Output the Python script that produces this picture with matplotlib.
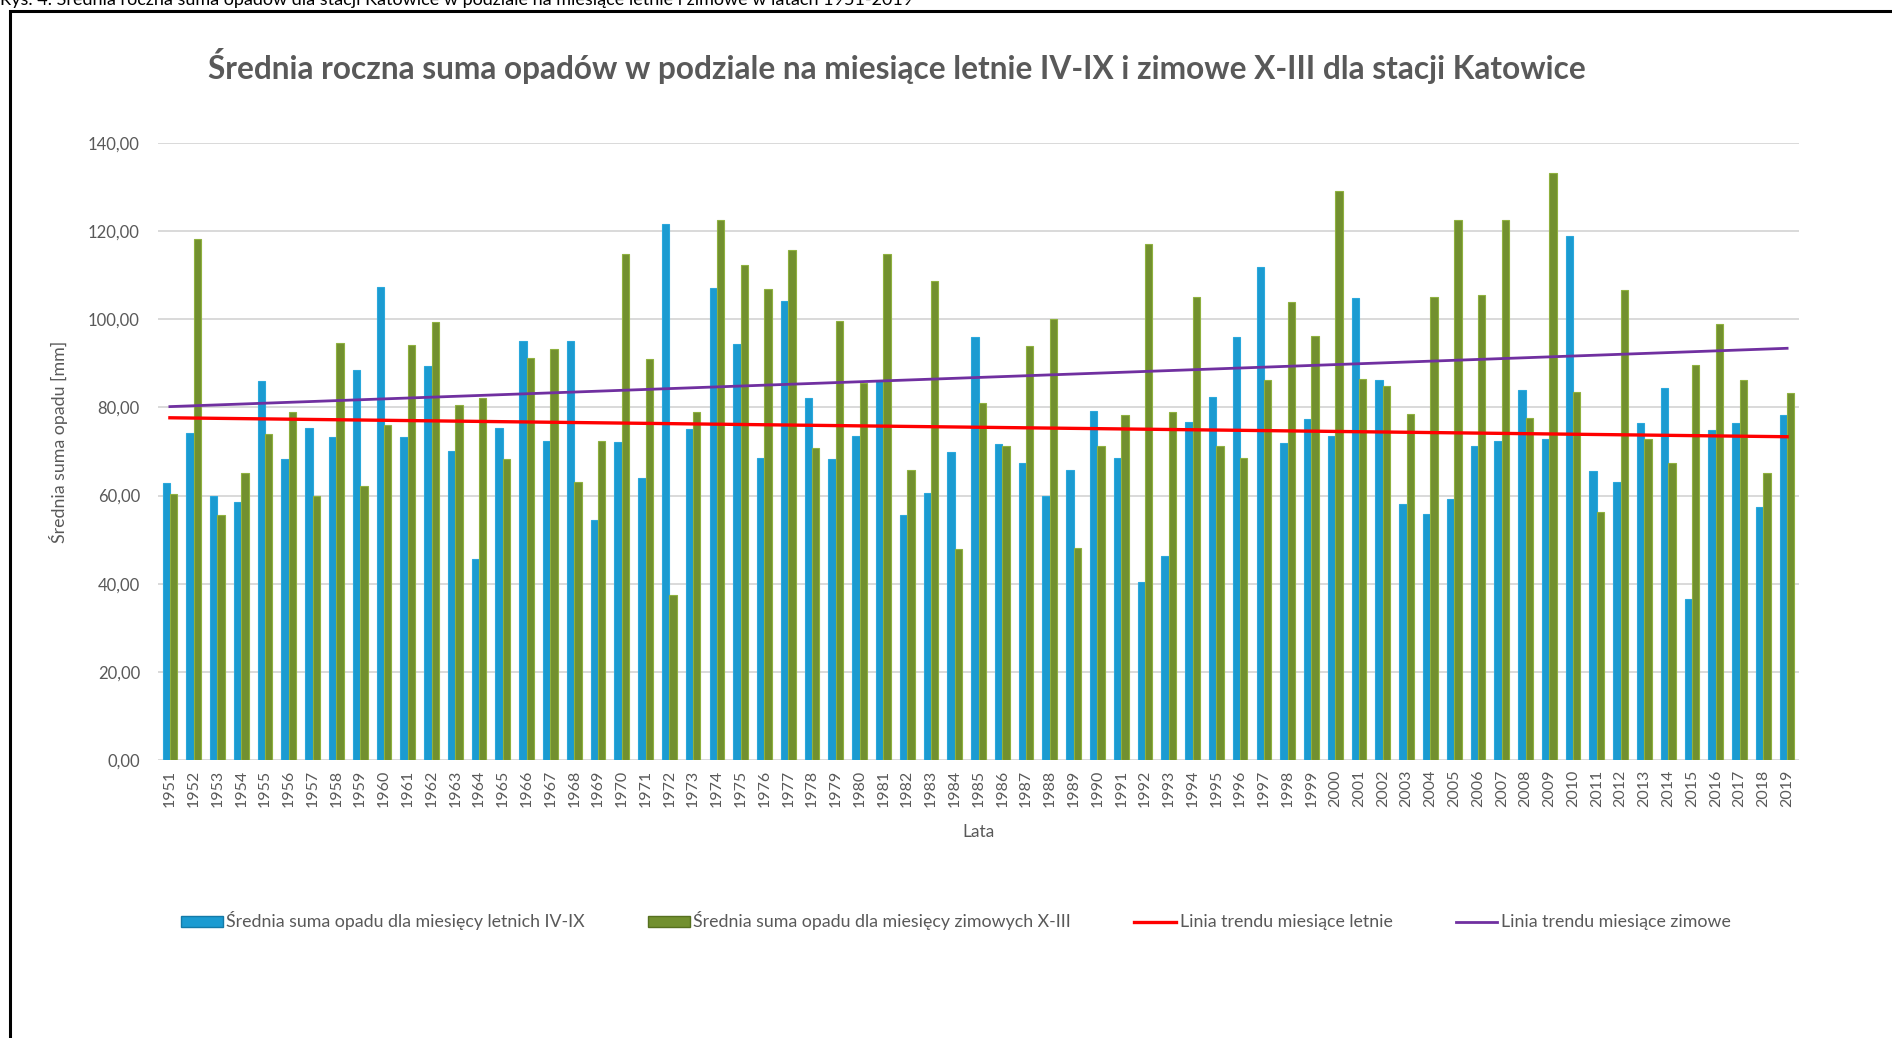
import matplotlib.pyplot as plt
import numpy as np
from matplotlib.patches import Patch, Rectangle
from matplotlib.lines import Line2D

plt.rcParams['font.family'] = ['Lato', 'DejaVu Sans']

# lata 1951-2019
years = list(range(1951, 2020))

# srednia suma opadu dla miesiecy letnich IV-IX [mm]
summer = [62.9, 74.3, 59.9, 58.5, 86.0, 68.3, 75.3, 73.3, 88.5, 107.3,
          73.4, 89.5, 70.1, 45.6, 75.3, 95.0, 72.4, 95.0, 54.5, 72.2,
          64.0, 121.7, 75.0, 107.0, 94.3, 68.6, 104.2, 82.2, 68.2, 73.6,
          86.0, 55.7, 60.6, 69.8, 95.9, 71.7, 67.4, 60.0, 65.7, 79.1,
          68.5, 40.4, 46.3, 76.8, 82.4, 96.0, 111.8, 72.0, 77.4, 73.6,
          104.8, 86.2, 58.1, 55.9, 59.3, 71.2, 72.3, 83.9, 72.8, 119.0,
          65.5, 63.1, 76.5, 84.4, 36.6, 74.8, 76.5, 57.3, 78.2]

# srednia suma opadu dla miesiecy zimowych X-III [mm]
winter = [60.4, 118.2, 55.7, 65.2, 73.9, 79.0, 60.0, 94.6, 62.1, 75.9,
          94.1, 99.3, 80.5, 82.2, 68.2, 91.2, 93.3, 63.1, 72.4, 114.9,
          91.0, 37.5, 79.0, 122.6, 112.3, 106.8, 115.8, 70.9, 99.7, 85.5,
          114.9, 65.7, 108.8, 47.8, 80.9, 71.2, 93.9, 100.1, 48.1, 71.2,
          78.2, 117.1, 79.0, 105.1, 71.2, 68.6, 86.3, 104.0, 96.3, 129.0,
          86.5, 84.8, 78.6, 105.1, 122.6, 105.6, 122.6, 77.6, 133.3, 83.6,
          56.2, 106.6, 72.9, 67.4, 89.6, 98.9, 86.2, 65.2, 83.3]

y_ticks = [0, 20, 40, 60, 80, 100, 120, 140]

W, H = 1892, 1038
grey = '#595959'
blue = '#1b9bd1'
green = '#72902f'

fig = plt.figure(figsize=(W / 100, H / 100), dpi=100)

# obszar wykresu w pikselach (lewo, gora, prawo, dol)
ax = fig.add_axes([158 / W, 1 - 760 / H, (1799 - 158) / W, (760 - 143) / H])

x = np.arange(len(years))
w = 0.31
ax.bar(x - w / 2, summer, w, color=blue, edgecolor='#2aa8dc', linewidth=0.8, zorder=2)
ax.bar(x + w / 2, winter, w, color=green, edgecolor='#8fb13f', linewidth=0.8, zorder=2)

# linie trendu (regresja liniowa jak w Excelu)
a_s, b_s = np.polyfit(x, summer, 1)
a_w, b_w = np.polyfit(x, winter, 1)
ax.plot(x, a_s * x + b_s, color='#ff0000', lw=2.4, zorder=3)
ax.plot(x, a_w * x + b_w, color='#7030a0', lw=2.0, zorder=3)

ax.set_xlim(-0.5, len(years) - 0.5)
ax.set_ylim(0, 140)
ax.set_yticks(y_ticks)
ax.set_yticklabels([f"{v:.2f}".replace('.', ',') for v in y_ticks])
ax.set_xticks(x)
ax.set_xticklabels([str(y) for y in years], rotation=90)
ax.yaxis.grid(True, color='#d9d9d9', lw=1.4)
ax.set_axisbelow(True)
for s in ax.spines.values():
    s.set_visible(False)
ax.tick_params(axis='y', length=0, pad=13, labelsize=12, labelcolor=grey)
ax.tick_params(axis='x', length=0, pad=7, labelsize=11.5, labelcolor=grey)

ax.set_xlabel("Lata", fontsize=12.5, color=grey, labelpad=12)
ax.set_ylabel("Średnia suma opadu [mm]", fontsize=12.8, color=grey)
ax.yaxis.set_label_coords(-0.055, 0.516)

fig.text(897 / W, 1 - 66 / H, "Średnia roczna suma opadów w podziale na miesiące letnie IV-IX i zimowe X-III dla stacji Katowice",
         ha='center', va='center', fontsize=22.8, fontweight='bold', color=grey)

# podpis u gory (przyciety jak w oryginale)
fig.text(0.0, 1 - 5 / H, "Rys. 4. Średnia roczna suma opadów dla stacji Katowice w podziale na miesiące letnie i zimowe w latach 1951-2019",
         ha='left', va='baseline', fontsize=13, color='black')

# ramka
fig.add_artist(Rectangle((10 / W, -0.5), 2.0, 1.5 - 11 / H, transform=fig.transFigure,
                         fill=False, edgecolor='black', lw=2.2, clip_on=False))

handles = [
    Patch(facecolor=blue, edgecolor='#137aa8', label="Średnia suma opadu dla miesięcy letnich IV-IX"),
    Patch(facecolor=green, edgecolor='#56701f', label="Średnia suma opadu dla miesięcy zimowych X-III"),
    Line2D([0], [0], color='#ff0000', lw=2.4, label="Linia trendu miesiące letnie"),
    Line2D([0], [0], color='#7030a0', lw=2.0, label="Linia trendu miesiące zimowe"),
]
leg = fig.legend(handles=handles, loc='center left', bbox_to_anchor=(181 / W, 1 - 921 / H),
                 ncol=4, frameon=False, fontsize=12.8, handlelength=2.35, handleheight=0.55,
                 handletextpad=0.2, columnspacing=3.55, borderaxespad=0, borderpad=0)
for t in leg.get_texts():
    t.set_color(grey)

fig.savefig("out.png", dpi=100)
